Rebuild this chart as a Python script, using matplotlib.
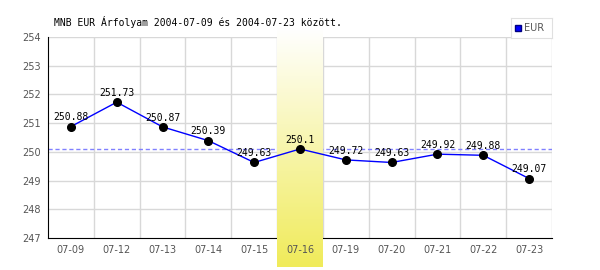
import numpy as np
import matplotlib.pyplot as plt

dates = ["07-09", "07-12", "07-13", "07-14", "07-15", "07-16",
         "07-19", "07-20", "07-21", "07-22", "07-23"]
rates = [250.88, 251.73, 250.87, 250.39, 249.63, 250.1,
         249.72, 249.63, 249.92, 249.88, 249.07]
highlight = "07-16"
ref_rate = 250.1
title = "MNB EUR Árfolyam 2004-07-09 és 2004-07-23 között."

fig = plt.figure(figsize=(6, 2.7), dpi=100)
ax = fig.add_axes([48 / 600, 32 / 270, 504 / 600, 201 / 270])

x = np.arange(len(dates))

# grid
for k in range(len(dates)):
    ax.axvline(k + 0.5, color="#d8d8d8", lw=1, zorder=1)
for v in range(248, 255):
    ax.axhline(v, color="#d8d8d8", lw=1, zorder=1)

ax.axhline(ref_rate, color="#8080ff", lw=1, ls=(0, (3, 2)), zorder=2)

# highlighted day, white to yellow gradient
hi = dates.index(highlight)
grad = np.linspace(0, 1, 256).reshape(-1, 1, 1)
white = np.array([1.0, 1.0, 1.0])
yellow = np.array([0xf0, 0xeb, 0x5a]) / 255
img = white + (yellow - white) * grad * np.ones((1, 1, 3))
ax.imshow(img, extent=[hi - 0.5, hi + 0.5, 245.99, 254.31], aspect="auto",
          zorder=3, clip_on=False, interpolation="bilinear")
ax.set_xlim(-0.5, len(dates) - 0.5)
ax.set_ylim(247, 254)

ax.plot(x, rates, color="#0000ff", lw=1, zorder=4, label="EUR")
ax.plot(x, rates, "o", color="black", ms=5.5, zorder=5)
for xi, r in zip(x, rates):
    ax.annotate(f"{r:g}", (xi, r), xytext=(0, 3), textcoords="offset points",
                ha="center", va="bottom", fontsize=7, family="DejaVu Sans Mono",
                zorder=6)

ax.set_xticks(x)
ax.set_xticklabels(dates)
ax.set_yticks(range(247, 255))
ax.tick_params(length=0, labelsize=7, labelcolor="#555555", pad=5)
for lab in ax.get_xticklabels() + ax.get_yticklabels():
    lab.set_family("DejaVu Sans")
ax.xaxis.set_zorder(6)

for s in ["top", "right"]:
    ax.spines[s].set_visible(False)
ax.spines["left"].set_color("black")
ax.spines["bottom"].set_color("black")
ax.spines["left"].set_zorder(2)
ax.spines["bottom"].set_zorder(2)

fig.text(54 / 600, 1 - 22 / 270, title, fontsize=7, family="DejaVu Sans Mono",
         va="center", ha="left")

# legend box
lax = fig.add_axes([511 / 600, 1 - 38 / 270, 41 / 600, 20 / 270])
lax.set_xticks([])
lax.set_yticks([])
for s in lax.spines.values():
    s.set_color("#e0e0e0")
lax.set_xlim(0, 41)
lax.set_ylim(0, 20)
lax.plot([7], [10], "s", color="#0000ff", mec="#000080", ms=5)
lax.text(13, 10, "EUR", fontsize=7, color="#555555", va="center", ha="left")

fig.savefig("out.png", dpi=100)
